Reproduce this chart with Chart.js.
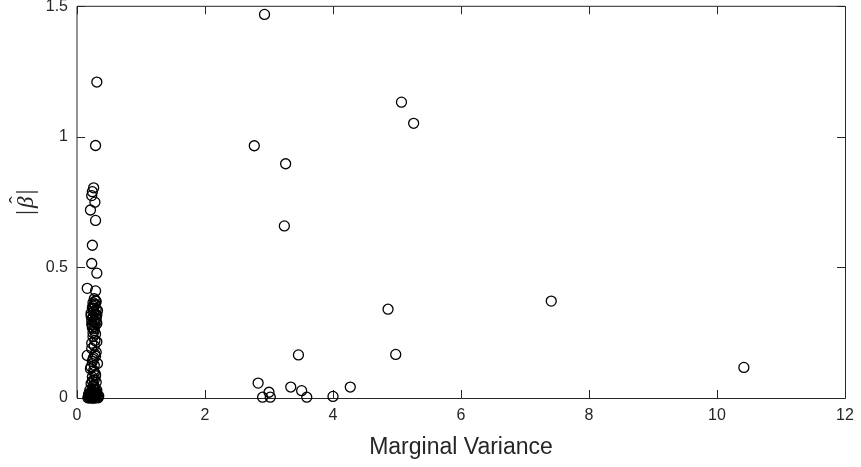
<!DOCTYPE html>
<html>
<head>
<meta charset="utf-8">
<script src="https://cdn.jsdelivr.net/npm/chart.js@4/dist/chart.umd.min.js"></script>
<style>
html,body{margin:0;padding:0;background:#fff;}
#wrap{width:861px;height:467px;position:relative;}
</style>
</head>
<body>
<div id="wrap"><canvas id="c" width="861" height="467"></canvas></div>
<script>
// Marginal variance (x) and |beta-hat| (y) for each point
const xValues = [
  // cluster near 0.15-0.35
  0.31,0.29,0.26,0.24,0.23,0.28,0.21,0.29,0.24,0.23,0.31,0.16,0.29,
  0.27,0.30,0.25,0.28,0.24,0.30,0.26,0.22,0.29,0.25,0.30,0.23,0.27,0.31,0.24,0.28,0.26,
  0.29,0.25,0.32,0.22,0.27,0.30,0.24,0.28,0.26,0.23,0.31,0.27,0.25,0.29,
  0.25,0.28,0.23,0.27,0.30,0.16,0.26,0.29,0.24,0.27,0.22,0.26,0.29,0.24,0.27,0.30,0.22,
  0.31,0.23,0.28,0.25,0.32,0.21,0.27,0.29,0.24,0.26,
  0.25,0.28,0.20,0.31,0.24,0.27,0.18,0.22,0.25,0.29,0.32,0.20,0.23,0.26,0.30,0.17,0.27,
  0.21,0.24,0.28,0.33,0.19,0.26,0.30,0.22,0.34,0.18,0.29,0.23,0.27,0.31,0.20,0.25,
  // spread points
  2.93,5.07,5.26,2.77,3.26,3.24,4.86,3.46,4.98,2.83,3.00,2.90,3.02,3.34,3.51,3.59,4.00,4.27,
  7.41,10.42
];
const yValues = [
  1.21,0.967,0.805,0.79,0.775,0.75,0.72,0.68,0.585,0.515,0.478,0.42,0.41,
  0.38,0.37,0.365,0.355,0.345,0.34,0.33,0.325,0.32,0.31,0.305,0.30,0.29,0.285,0.28,0.275,0.265,
  0.372,0.352,0.335,0.315,0.298,0.292,0.27,0.36,0.343,0.283,0.318,0.258,0.25,0.245,
  0.235,0.22,0.21,0.20,0.175,0.163,0.155,0.16,0.14,0.125,0.12,0.105,0.09,0.08,0.07,0.06,0.055,
  0.215,0.19,0.168,0.148,0.132,0.112,0.098,0.085,0.065,0.05,
  0.045,0.04,0.03,0.03,0.025,0.02,0.012,0.01,0.008,0.01,0.005,0.003,0.002,0.001,0.002,0.001,0.004,
  0.006,0.0,0.0,0.001,0.018,0.035,0.015,0.022,0.008,0.005,0.028,0.014,0.009,0.017,0.0,0.002,
  1.469,1.133,1.052,0.966,0.897,0.659,0.34,0.165,0.167,0.057,0.022,0.003,0.003,0.042,0.028,0.003,0.006,0.042,
  0.371,0.117
];
const xTicks = [0,2,4,6,8,10,12];
const yTicks = [0,0.5,1,1.5];
const xLabel = 'Marginal Variance';
const yLabelParts = ['|', '\u03B2', '|'];   // |β̂| with a hat over β
const yLabelHat = '\u02C6';

const points = xValues.map((x,i)=>({x:x,y:yValues[i]}));
const axisColor = '#262626';

const framePlugin = {
  id:'frame',
  beforeDatasetsDraw(chart){
    const {ctx, chartArea:a, scales:{x,y}} = chart;
    ctx.save();
    ctx.strokeStyle = axisColor;
    ctx.lineWidth = 1;
    ctx.beginPath();
    ctx.moveTo(a.left, a.bottom); ctx.lineTo(a.left, a.top); ctx.lineTo(a.right, a.top);
    ctx.stroke();
    ctx.beginPath();
    ctx.moveTo(a.left, a.bottom+0.5); ctx.lineTo(a.right+0.5, a.bottom+0.5);
    ctx.moveTo(a.right+0.5, a.bottom+0.5); ctx.lineTo(a.right+0.5, a.top);
    ctx.stroke();
    const tl = 8;
    ctx.beginPath();
    xTicks.forEach(v=>{
      const px = Math.round(x.getPixelForValue(v))+0.5;
      ctx.moveTo(px, a.bottom); ctx.lineTo(px, a.bottom-tl);
      ctx.moveTo(px, a.top); ctx.lineTo(px, a.top+tl);
    });
    yTicks.forEach(v=>{
      const py = Math.round(y.getPixelForValue(v))+0.5;
      ctx.moveTo(a.left, py); ctx.lineTo(a.left+tl, py);
      ctx.moveTo(a.right, py); ctx.lineTo(a.right-tl, py);
    });
    ctx.stroke();
    ctx.restore();
  },
  afterDraw(chart){
    const {ctx, chartArea:a} = chart;
    ctx.save();
    const cy = (a.top + a.bottom)/2;
    ctx.translate(26, cy);
    ctx.rotate(-Math.PI/2);
    ctx.fillStyle = axisColor;
    ctx.textBaseline = 'alphabetic';
    const barFont = '25px "Liberation Serif", serif';
    const betaFont = 'italic 23px "Liberation Serif", serif';
    ctx.font = barFont; const wBar = ctx.measureText('|').width;
    ctx.font = betaFont; const wBeta = ctx.measureText(yLabelParts[1]).width;
    const gap = 2;
    const total = wBar*2 + wBeta + gap*2;
    let xx = -total/2;
    const base = 7;
    ctx.textAlign = 'left';
    ctx.font = barFont; ctx.fillText(yLabelParts[0], xx, base); xx += wBar + gap;
    ctx.font = betaFont; ctx.fillText(yLabelParts[1], xx, base);
    ctx.font = '22px "Liberation Serif", serif';
    ctx.textAlign = 'center';
    ctx.fillText(yLabelHat, xx + wBeta/2 + 2, base - 9);
    xx += wBeta + gap;
    ctx.textAlign = 'left';
    ctx.font = barFont; ctx.fillText(yLabelParts[2], xx, base);
    ctx.restore();
  }
};

new Chart(document.getElementById('c'), {
  type:'scatter',
  data:{datasets:[{
    data:points,
    borderColor:'#000',
    backgroundColor:'rgba(0,0,0,0)',
    pointRadius:5,
    pointBorderWidth:1.3,
    pointHoverRadius:5,
    clip:false
  }]},
  options:{
    responsive:false,
    animation:false,
    events:[],
    layout:{padding:{left:0,right:16,top:3,bottom:0}},
    plugins:{legend:{display:false},tooltip:{enabled:false}},
    scales:{
      x:{
        type:'linear', min:0, max:12,
        afterBuildTicks(s){ s.ticks = xTicks.map(v=>({value:v})); },
        afterFit(s){ s.height = 69; s.paddingLeft = 0; s.paddingRight = 0; },
        grid:{display:false, drawTicks:false},
        border:{display:false},
        ticks:{color:axisColor, padding:8, callback:(v)=>String(v), font:{family:'Liberation Sans, Arial, sans-serif', size:16}, maxRotation:0},
        title:{display:true, text:xLabel, color:axisColor, font:{family:'Liberation Sans, Arial, sans-serif', size:23}, padding:{top:2,bottom:6}}
      },
      y:{
        type:'linear', min:0, max:1.5,
        afterBuildTicks(s){ s.ticks = yTicks.map(v=>({value:v})); },
        afterFit(s){ s.width = 77; s.paddingTop = 0; s.paddingBottom = 0; },
        grid:{display:false, drawTicks:false},
        border:{display:false},
        ticks:{color:axisColor, padding:9, callback:(v)=>String(v), font:{family:'Liberation Sans, Arial, sans-serif', size:16}},
        title:{display:false}
      }
    }
  },
  plugins:[framePlugin]
});
</script>
</body>
</html>
